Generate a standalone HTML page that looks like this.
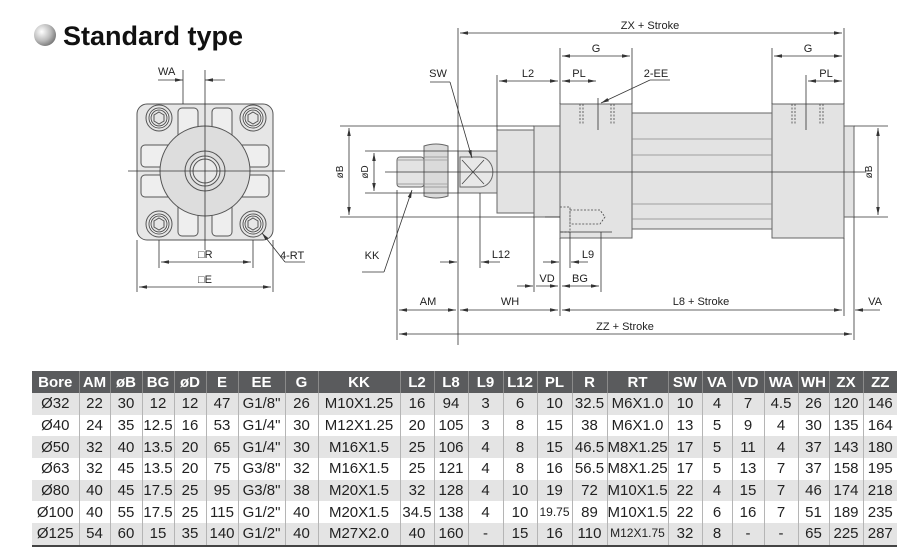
<!DOCTYPE html>
<html><head><meta charset="utf-8"><style>
body{margin:0;width:905px;height:558px;background:#fff;overflow:hidden;font-family:"Liberation Sans",sans-serif;position:relative}
svg{position:absolute;left:0;top:0}
table{position:absolute;left:32px;top:371px;border-collapse:collapse;table-layout:fixed;width:865px;font-size:15px;color:#222}
td,th{padding:0;text-align:center;white-space:nowrap;overflow:hidden;border-left:1px solid #b5b5b5}
th{background:#5a5b5d;color:#fff;font-weight:bold;height:22px;border-left:1px solid #8a8a8a;font-size:15px}
td{height:21.7px;line-height:21px}
tr:nth-child(even) td{background:#e4e4e4}
tr:nth-child(odd) td{background:#fff}
tr:last-child td{border-bottom:2px solid #444}
td:first-child,th:first-child{border-left:none}
.s{font-size:12px}
</style></head><body>
<svg width="905" height="558" viewBox="0 0 905 558" font-family="Liberation Sans, sans-serif">
<defs>
<radialGradient id="sp" cx="0.35" cy="0.35" r="0.7"><stop offset="0" stop-color="#fff"/><stop offset="0.6" stop-color="#bbb"/><stop offset="1" stop-color="#777"/></radialGradient>
<marker id="a" viewBox="0 0 10 6" refX="10" refY="3" markerWidth="10" markerHeight="6" orient="auto-start-reverse"><path d="M0,0.8L10,3L0,5.2z" fill="#333"/></marker>
</defs>
<circle cx="45" cy="35" r="11" fill="url(#sp)"/>
<text x="63" y="45" font-size="27" font-weight="bold" fill="#111">Standard type</text>

<!-- left view -->
<g stroke="#555" stroke-width="1" fill="#e6e6e6">
<rect x="137" y="104" width="136" height="136" rx="10"/>
<rect x="178" y="108" width="20" height="40" rx="4" fill="#eee"/>
<rect x="212" y="108" width="20" height="40" rx="4" fill="#eee"/>
<rect x="178" y="196" width="20" height="40" rx="4" fill="#eee"/>
<rect x="212" y="196" width="20" height="40" rx="4" fill="#eee"/>
<rect x="141" y="145" width="38" height="22" rx="4" fill="#eee"/>
<rect x="141" y="175" width="38" height="22" rx="4" fill="#eee"/>
<rect x="231" y="145" width="38" height="22" rx="4" fill="#eee"/>
<rect x="231" y="175" width="38" height="22" rx="4" fill="#eee"/>
<circle cx="205" cy="171" r="45" fill="#ddd"/>
<circle cx="205" cy="171" r="20" fill="#ddd"/>
<circle cx="205" cy="171" r="15" fill="#e8e8e8"/>
<circle cx="205" cy="171" r="12" fill="#e8e8e8"/>
<circle cx="159" cy="118" r="13"/><circle cx="159" cy="118" r="10" fill="#fff"/><circle cx="159" cy="118" r="8"/>
<circle cx="253" cy="118" r="13"/><circle cx="253" cy="118" r="10" fill="#fff"/><circle cx="253" cy="118" r="8"/>
<circle cx="159" cy="224" r="13"/><circle cx="159" cy="224" r="10" fill="#fff"/><circle cx="159" cy="224" r="8"/>
<circle cx="253" cy="224" r="13"/><circle cx="253" cy="224" r="10" fill="#fff"/><circle cx="253" cy="224" r="8"/>
<polygon points="159,112 164,115 164,121 159,124 154,121 154,115" fill="none"/>
<polygon points="253,112 258,115 258,121 253,124 248,121 248,115" fill="none"/>
<polygon points="159,218 164,221 164,227 159,230 154,227 154,221" fill="none"/>
<polygon points="253,218 258,221 258,227 253,230 248,227 248,221" fill="none"/>
</g>
<g stroke="#333" stroke-width="0.8" fill="none">
<line x1="205" y1="70" x2="205" y2="250"/>
<line x1="128" y1="171" x2="285" y2="171"/>
<line x1="183" y1="70" x2="183" y2="104"/>
<line x1="159" y1="240" x2="159" y2="268"/><line x1="253" y1="240" x2="253" y2="268"/>
<line x1="137" y1="240" x2="137" y2="292"/><line x1="273" y1="240" x2="273" y2="292"/>
<line x1="161" y1="262" x2="251" y2="262" marker-start="url(#a)" marker-end="url(#a)"/>
<line x1="139" y1="287" x2="271" y2="287" marker-start="url(#a)" marker-end="url(#a)"/>
<line x1="158" y1="80" x2="183" y2="80" marker-end="url(#a)"/>
<line x1="225" y1="80" x2="205" y2="80" marker-end="url(#a)"/>
<line x1="305" y1="262" x2="285" y2="262"/><line x1="285" y1="262" x2="262" y2="233" marker-end="url(#a)"/>
</g>
<g font-size="11" fill="#222">
<text x="158" y="75">WA</text>
<text x="198" y="258">□R</text>
<text x="198" y="283">□E</text>
<text x="280" y="259">4-RT</text>
</g>

<!-- side view bodies -->
<g stroke="#666" stroke-width="1" fill="#e3e3e3">
<rect x="632" y="113" width="140" height="116"/>
<rect x="534" y="126" width="26" height="91"/>
<rect x="497" y="130" width="37" height="83"/>
<rect x="458" y="151" width="39" height="42"/>
<rect x="844" y="126" width="10" height="91"/>
<rect x="560" y="104" width="72" height="134"/>
<rect x="772" y="104" width="72" height="134"/>
<rect x="397" y="157" width="27" height="30" rx="3"/>
<path d="M424,146 q12,-4 24,0 v50 q-12,4 -24,0 z" fill="#dadada"/>
<path d="M460,157 h20 a12,14 0 0 1 0,30 h-20 z" fill="#e8e8e8"/>
</g>
<g stroke="#888" stroke-width="0.8" fill="none">
<line x1="632" y1="139" x2="772" y2="139"/><line x1="632" y1="155" x2="772" y2="155"/>
<line x1="632" y1="204" x2="772" y2="204"/><line x1="632" y1="219" x2="772" y2="219"/>
<line x1="424" y1="157" x2="448" y2="157"/><line x1="424" y1="187" x2="448" y2="187"/>
<line x1="397" y1="160" x2="424" y2="160"/><line x1="397" y1="184" x2="424" y2="184"/>
</g>
<g stroke="#444" stroke-width="0.8" fill="none">
<line x1="462" y1="160" x2="484" y2="184"/><line x1="484" y1="160" x2="462" y2="184"/>
<g stroke-dasharray="2,1.5">
<line x1="580" y1="104" x2="580" y2="124"/><line x1="583" y1="104" x2="583" y2="124"/>
<line x1="611" y1="104" x2="611" y2="124"/><line x1="614" y1="104" x2="614" y2="124"/>
<line x1="792" y1="104" x2="792" y2="124"/><line x1="795" y1="104" x2="795" y2="124"/>
<line x1="820" y1="104" x2="820" y2="124"/><line x1="823" y1="104" x2="823" y2="124"/>
<path d="M560,207 h10 v25 h-10 M570,210 h30 l5,7 l-5,7 h-30 z"/>
</g>
</g>
<!-- centre / extension lines -->
<g stroke="#333" stroke-width="0.8" fill="none">
<line x1="385" y1="172" x2="866" y2="172"/>
<line x1="598" y1="98" x2="598" y2="130"/><line x1="806" y1="75" x2="806" y2="130"/>
<line x1="340" y1="126" x2="534" y2="126"/><line x1="340" y1="217" x2="534" y2="217"/>
<line x1="365" y1="151" x2="458" y2="151"/><line x1="365" y1="193" x2="458" y2="193"/>
<line x1="854" y1="126" x2="888" y2="126"/><line x1="854" y1="217" x2="888" y2="217"/>
<line x1="545" y1="217" x2="560" y2="217"/><line x1="560" y1="232" x2="612" y2="232"/>
<line x1="458" y1="28" x2="458" y2="345"/>
<line x1="844" y1="28" x2="844" y2="104"/><line x1="844" y1="238" x2="844" y2="316"/>
<line x1="560" y1="48" x2="560" y2="104"/><line x1="560" y1="238" x2="560" y2="316"/>
<line x1="632" y1="48" x2="632" y2="104"/>
<line x1="772" y1="48" x2="772" y2="104"/>
<line x1="497" y1="75" x2="497" y2="130"/>
<line x1="397" y1="190" x2="397" y2="340"/>
<line x1="480" y1="193" x2="480" y2="268"/>
<line x1="534" y1="217" x2="534" y2="292"/>
<line x1="570" y1="232" x2="570" y2="268"/>
<line x1="601" y1="232" x2="601" y2="292"/>
<line x1="854" y1="217" x2="854" y2="340"/>
<line x1="460" y1="33" x2="842" y2="33" marker-start="url(#a)" marker-end="url(#a)"/>
<line x1="562" y1="56" x2="630" y2="56" marker-start="url(#a)" marker-end="url(#a)"/>
<line x1="774" y1="56" x2="842" y2="56" marker-start="url(#a)" marker-end="url(#a)"/>
<line x1="499" y1="81" x2="558" y2="81" marker-start="url(#a)" marker-end="url(#a)"/>
<line x1="562" y1="81" x2="596" y2="81" marker-start="url(#a)" marker-end="url(#a)"/>
<line x1="808" y1="81" x2="842" y2="81" marker-start="url(#a)" marker-end="url(#a)"/>
<line x1="349" y1="128" x2="349" y2="215" marker-start="url(#a)" marker-end="url(#a)"/>
<line x1="374" y1="153" x2="374" y2="191" marker-start="url(#a)" marker-end="url(#a)"/>
<line x1="878" y1="128" x2="878" y2="215" marker-start="url(#a)" marker-end="url(#a)"/>
<line x1="440" y1="262" x2="457" y2="262" marker-end="url(#a)"/>
<line x1="500" y1="262" x2="481" y2="262" marker-end="url(#a)"/>
<line x1="543" y1="262" x2="559" y2="262" marker-end="url(#a)"/>
<line x1="588" y1="262" x2="571" y2="262" marker-end="url(#a)"/>
<line x1="517" y1="286" x2="533" y2="286" marker-end="url(#a)"/>
<line x1="536" y1="286" x2="558" y2="286" marker-end="url(#a)"/>
<line x1="562" y1="286" x2="599" y2="286" marker-start="url(#a)" marker-end="url(#a)"/>
<line x1="399" y1="310" x2="456" y2="310" marker-start="url(#a)" marker-end="url(#a)"/>
<line x1="460" y1="310" x2="558" y2="310" marker-start="url(#a)" marker-end="url(#a)"/>
<line x1="562" y1="310" x2="842" y2="310" marker-start="url(#a)" marker-end="url(#a)"/>
<line x1="880" y1="310" x2="855" y2="310" marker-end="url(#a)"/>
<line x1="399" y1="334" x2="852" y2="334" marker-start="url(#a)" marker-end="url(#a)"/>
<line x1="430" y1="82" x2="450" y2="82"/><line x1="450" y1="82" x2="472" y2="158" marker-end="url(#a)"/>
<line x1="362" y1="272" x2="384" y2="272"/><line x1="384" y1="272" x2="412" y2="190" marker-end="url(#a)"/>
<line x1="670" y1="80" x2="650" y2="80"/><line x1="650" y1="80" x2="601" y2="103" marker-end="url(#a)"/>
<line x1="424" y1="160" x2="448" y2="160" stroke="#999"/><line x1="424" y1="184" x2="448" y2="184" stroke="#999"/>
</g>
<g font-size="11" fill="#222" text-anchor="middle">
<text x="650" y="29">ZX + Stroke</text>
<text x="596" y="52">G</text><text x="808" y="52">G</text>
<text x="528" y="77">L2</text><text x="579" y="77">PL</text><text x="826" y="77">PL</text>
<text x="656" y="77">2-EE</text>
<text x="438" y="77">SW</text>
<text x="372" y="259">KK</text>
<text x="501" y="258">L12</text>
<text x="588" y="258">L9</text>
<text x="547" y="282">VD</text><text x="580" y="282">BG</text>
<text x="428" y="305">AM</text><text x="510" y="305">WH</text>
<text x="701" y="305">L8 + Stroke</text><text x="875" y="305">VA</text>
<text x="625" y="330">ZZ + Stroke</text>
<text transform="translate(343,172) rotate(-90)" font-size="10">øB</text>
<text transform="translate(368,172) rotate(-90)" font-size="10">øD</text>
<text transform="translate(872,172) rotate(-90)" font-size="10">øB</text>
</g>
</svg>
<table>
<colgroup><col style="width:47px"><col style="width:31px"><col style="width:32px"><col style="width:32px"><col style="width:32px"><col style="width:32px"><col style="width:47px"><col style="width:33px"><col style="width:82px"><col style="width:34px"><col style="width:34px"><col style="width:35px"><col style="width:34px"><col style="width:35px"><col style="width:35px"><col style="width:61px"><col style="width:34px"><col style="width:30px"><col style="width:32px"><col style="width:34px"><col style="width:31px"><col style="width:34px"><col style="width:34px"></colgroup>
<tr><th>Bore</th><th>AM</th><th>øB</th><th>BG</th><th>øD</th><th>E</th><th>EE</th><th>G</th><th>KK</th><th>L2</th><th>L8</th><th>L9</th><th>L12</th><th>PL</th><th>R</th><th>RT</th><th>SW</th><th>VA</th><th>VD</th><th>WA</th><th>WH</th><th>ZX</th><th>ZZ</th></tr>
<tr><td>Ø32</td><td>22</td><td>30</td><td>12</td><td>12</td><td>47</td><td>G1/8"</td><td>26</td><td>M10X1.25</td><td>16</td><td>94</td><td>3</td><td>6</td><td>10</td><td>32.5</td><td>M6X1.0</td><td>10</td><td>4</td><td>7</td><td>4.5</td><td>26</td><td>120</td><td>146</td></tr>
<tr><td>Ø40</td><td>24</td><td>35</td><td>12.5</td><td>16</td><td>53</td><td>G1/4"</td><td>30</td><td>M12X1.25</td><td>20</td><td>105</td><td>3</td><td>8</td><td>15</td><td>38</td><td>M6X1.0</td><td>13</td><td>5</td><td>9</td><td>4</td><td>30</td><td>135</td><td>164</td></tr>
<tr><td>Ø50</td><td>32</td><td>40</td><td>13.5</td><td>20</td><td>65</td><td>G1/4"</td><td>30</td><td>M16X1.5</td><td>25</td><td>106</td><td>4</td><td>8</td><td>15</td><td>46.5</td><td>M8X1.25</td><td>17</td><td>5</td><td>11</td><td>4</td><td>37</td><td>143</td><td>180</td></tr>
<tr><td>Ø63</td><td>32</td><td>45</td><td>13.5</td><td>20</td><td>75</td><td>G3/8"</td><td>32</td><td>M16X1.5</td><td>25</td><td>121</td><td>4</td><td>8</td><td>16</td><td>56.5</td><td>M8X1.25</td><td>17</td><td>5</td><td>13</td><td>7</td><td>37</td><td>158</td><td>195</td></tr>
<tr><td>Ø80</td><td>40</td><td>45</td><td>17.5</td><td>25</td><td>95</td><td>G3/8"</td><td>38</td><td>M20X1.5</td><td>32</td><td>128</td><td>4</td><td>10</td><td>19</td><td>72</td><td>M10X1.5</td><td>22</td><td>4</td><td>15</td><td>7</td><td>46</td><td>174</td><td>218</td></tr>
<tr><td>Ø100</td><td>40</td><td>55</td><td>17.5</td><td>25</td><td>115</td><td>G1/2"</td><td>40</td><td>M20X1.5</td><td>34.5</td><td>138</td><td>4</td><td>10</td><td class="s">19.75</td><td>89</td><td>M10X1.5</td><td>22</td><td>6</td><td>16</td><td>7</td><td>51</td><td>189</td><td>235</td></tr>
<tr><td>Ø125</td><td>54</td><td>60</td><td>15</td><td>35</td><td>140</td><td>G1/2"</td><td>40</td><td>M27X2.0</td><td>40</td><td>160</td><td>-</td><td>15</td><td>16</td><td>110</td><td class="s">M12X1.75</td><td>32</td><td>8</td><td>-</td><td>-</td><td>65</td><td>225</td><td>287</td></tr>
</table>
</body></html>
